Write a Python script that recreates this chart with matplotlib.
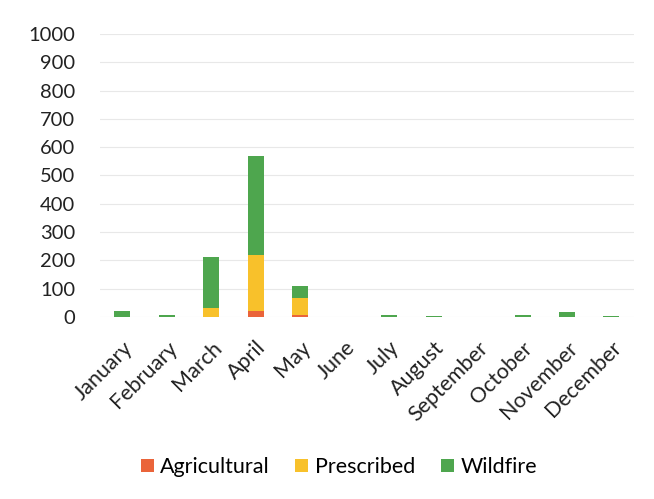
import matplotlib
matplotlib.use("Agg")
import matplotlib.pyplot as plt
import numpy as np

months = ["January", "February", "March", "April", "May", "June", "July",
          "August", "September", "October", "November", "December"]
agricultural = [0, 0, 0, 20, 5, 0, 0, 0, 0, 0, 0, 0]
prescribed = [0, 0, 30, 200, 60, 0, 0, 0, 0, 0, 0, 0]
wildfire = [20, 5, 180, 350, 45, 0, 5, 3, 0, 7, 18, 4]
yticks = list(range(0, 1001, 100))

colors = {"Agricultural": "#EA643A", "Prescribed": "#F8C12B", "Wildfire": "#4EA64E"}

plt.rcParams['font.family'] = ['Lato', 'DejaVu Sans']

fig = plt.figure(figsize=(6.54, 4.99), dpi=100)
ax = fig.add_axes([0.153, 0.365, 0.816, 0.567])

x = np.arange(len(months))
w = 0.36
a = np.array(agricultural)
p = np.array(prescribed)
wf = np.array(wildfire)
ax.bar(x, a, w, color=colors["Agricultural"], label="Agricultural", zorder=3)
ax.bar(x, p, w, bottom=a, color=colors["Prescribed"], label="Prescribed", zorder=3)
ax.bar(x, wf, w, bottom=a + p, color=colors["Wildfire"], label="Wildfire", zorder=3)

ax.set_xlim(-0.5, len(months) - 0.5)
ax.set_ylim(0, 1000)
ax.set_yticks(yticks)
ax.set_yticklabels([str(v) for v in yticks], fontsize=14.5, color="#222222")
ax.set_xticks(x)
ax.set_xticklabels(months, rotation=45, ha="right", rotation_mode="anchor",
                   fontsize=15.5, color="#222222")
ax.tick_params(axis="y", length=0, pad=18)
ax.tick_params(axis="x", length=0, pad=15)
ax.yaxis.grid(True, color="#E8E8E8", linewidth=0.8, zorder=0)
for s in ax.spines.values():
    s.set_visible(False)

fig.legend(loc="center", bbox_to_anchor=(0.518, 0.064), ncol=3, frameon=False,
           fontsize=15.5, handlelength=0.6, handleheight=0.6, columnspacing=1.2,
           handletextpad=0.3)

fig.savefig("out.png", dpi=100, facecolor="white")
